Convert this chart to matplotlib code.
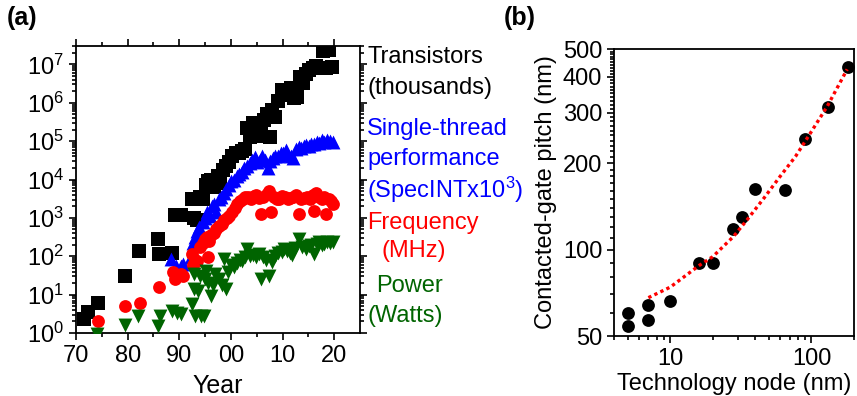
import numpy as np
import matplotlib
matplotlib.use("Agg")
import matplotlib.pyplot as plt
from matplotlib.ticker import FixedLocator, LogLocator, NullFormatter

plt.rcParams['font.family'] = ['Liberation Sans', 'DejaVu Sans']
plt.rcParams['mathtext.default'] = 'regular'

# (a) Transistors (thousands)
tr_year = [1971.5, 1972.3, 1974.3, 1979.5, 1982.2, 1985.9, 1986.1, 1988.6, 1989.2, 1990.3,
           1992.4, 1992.9, 1993.4, 1994.0, 1994.6, 1995.1, 1995.6, 1996.1, 1996.8, 1997.4,
           1997.9, 1998.5, 1999.1, 1999.7, 2000.3, 2000.9, 2001.5, 2002.1, 2002.7, 2003.1,
           2003.6, 2004.2, 2004.8, 2005.3, 2005.8, 2006.4, 2006.9, 2007.5, 2008.0, 2008.6,
           2009.2, 2009.8, 2010.4, 2011.0, 2011.6, 2012.2, 2012.8, 2013.4, 2014.0, 2014.6,
           2015.2, 2015.9, 2016.5, 2017.2, 2017.8, 2018.4, 2019.0, 2019.5]
tr_val = [2.3, 3.5, 6, 30, 138, 280, 112, 125, 1200, 1200,
          3200, 1000, 900, 3500, 3200, 7000, 9000, 9500, 6300, 12600,
          8000, 18000, 22000, 29000, 40000, 48000, 50000, 56000, 63000, 214000,
          126000, 290000, 140000, 234000, 178000, 355000, 525000, 129000, 630000, 437000,
          1.12e6, 2.19e6, 1.78e6, 1.58e6, 2.5e6, 1.32e6, 1.4e6, 4.8e6, 3.2e6, 5.6e6,
          7.1e6, 7.9e6, 8.9e6, 7.9e6, 2.2e7, 8.3e6, 2.4e7, 8.5e6]

# Single-thread performance (SpecINT x 10^3)
st_year = [1988.4, 1989.4, 1990.3, 1990.8, 1992.3, 1992.6, 1993.0, 1993.4, 1993.9, 1994.3,
           1994.6, 1995.0, 1995.4, 1995.9, 1996.3, 1996.8, 1997.2, 1997.7, 1998.1, 1998.6,
           1999.1, 1999.6, 2000.1, 2000.6, 2001.1, 2001.6, 2002.1, 2002.6, 2003.1, 2003.6,
           2004.1, 2004.6, 2005.1, 2005.6, 2006.1, 2006.6, 2007.1, 2007.6, 2008.1, 2008.6,
           2009.1, 2009.6, 2010.1, 2010.6, 2011.1, 2011.6, 2012.1, 2012.6, 2013.1, 2013.6,
           2014.1, 2014.6, 2015.1, 2015.6, 2016.1, 2016.6, 2017.1, 2017.6, 2018.1, 2018.6,
           2019.1, 2019.7]
st_val = [85, 56, 56, 63, 93, 224, 316, 447, 562, 398,
          794, 1000, 1413, 1122, 2000, 2240, 1413, 3160, 3550, 4470,
          5620, 7080, 8900, 10000, 12000, 14100, 15800, 20000, 22400, 26300,
          31600, 38000, 28000, 31600, 40000, 33000, 20000, 30000, 35500, 41700,
          40000, 47900, 50000, 57500, 44700, 41700, 35500, 63000, 70800, 66000,
          75900, 79400, 74100, 85100, 83200, 93300, 89100, 104700, 95500, 107000,
          100000, 93300]

# Frequency (MHz)
fr_year = [1974.3, 1979.5, 1982.3, 1986.0, 1988.7, 1989.2, 1989.8, 1990.3, 1990.7, 1992.4,
           1992.6, 1993.1, 1993.4, 1994.0, 1994.5, 1994.9, 1995.3, 1995.6, 1995.8, 1996.2,
           1996.7, 1997.2, 1997.7, 1998.2, 1998.7, 1999.2, 1999.7, 2000.2, 2000.7, 2001.2,
           2001.8, 2002.3, 2002.8, 2003.3, 2003.9, 2004.4, 2004.9, 2005.4, 2005.8, 2006.3,
           2006.9, 2007.4, 2007.8, 2008.3, 2008.9, 2009.4, 2009.9, 2010.5, 2011.0, 2011.5,
           2012.0, 2012.6, 2013.2, 2013.6, 2014.2, 2014.7, 2015.3, 2015.8, 2016.1, 2016.5,
           2017.1, 2017.6, 2018.1, 2018.4, 2018.9, 2019.4, 2019.8]
fr_val = [2, 5, 6, 16, 40, 26, 32, 35, 30, 112,
          60, 80, 76, 178, 224, 282, 316, 93, 251, 355,
          398, 500, 600, 708, 890, 1000, 1120, 1410, 1780, 2240,
          2820, 3160, 3550, 3550, 3160, 3800, 4000, 3300, 1290, 3550,
          4170, 5000, 1410, 3550, 3160, 3160, 3630, 3470, 3160, 3310,
          3550, 3890, 1290, 3160, 3390, 3550, 3160, 4000, 1550, 4470,
          3550, 3160, 3550, 1290, 3160, 2820, 2340]

# Power (Watts)
pw_year = [1974.1, 1979.5, 1982.1, 1985.9, 1986.2, 1988.6, 1989.6, 1990.4, 1992.5, 1993.1,
           1994.2, 1994.7, 1992.8, 1993.7, 1992.9, 1994.0, 1995.0, 1995.2, 1995.6, 1996.1,
           1996.5, 1997.0, 1997.7, 1998.2, 1999.0, 1998.7, 1999.5, 2000.0, 2000.6, 2001.2,
           2001.7, 2002.2, 2002.7, 2003.2, 2003.7, 2004.2, 2004.8, 2005.5, 2005.8, 2006.3,
           2006.8, 2007.4, 2008.0, 2008.6, 2009.2, 2009.8, 2010.3, 2010.9, 2011.4, 2011.9,
           2012.4, 2013.2, 2013.8, 2014.5, 2015.1, 2015.6, 2016.1, 2016.6, 2017.1, 2017.6,
           2018.1, 2018.6, 2019.1, 2019.7]
pw_val = [0.95, 1.6, 2.8, 1.5, 2.8, 3.8, 3.3, 3.2, 5.6, 2.8,
          2.8, 2.8, 14, 12.6, 35, 30, 25, 42, 20, 9.3,
          18, 35, 25, 18, 14, 85, 40, 60, 51, 65,
          80, 76, 95, 155, 100, 110, 95, 115, 25, 95,
          80, 31, 69, 100, 120, 130, 155, 140, 125, 105,
          160, 280, 170, 155, 190, 200, 115, 210, 230, 200,
          210, 230, 220, 230]

year_ticks = [1970, 1980, 1990, 2000, 2010, 2020]
year_labels = ['70', '80', '90', '00', '10', '20']

# (b) contacted-gate pitch vs technology node
node = [5, 5, 7, 7, 10, 16, 20, 28, 32, 40, 65, 90, 130, 180]
pitch = [60, 54, 64, 57, 66, 90, 90, 118, 130, 163, 161, 242, 313, 434]
fit_node = [7, 10, 16, 20, 28, 35, 46, 60, 77, 93, 129, 179]
fit_pitch = [68, 74, 88, 94.5, 111, 127, 151, 180, 211, 244, 315, 425]

green = '#006400'
FS = 17

fig = plt.figure(figsize=(8.57, 3.96), dpi=100)

# ---- panel (a)
ax = fig.add_axes([0.0887, 0.1591, 0.3314, 0.7247])
ax.set_yscale('log')
ax.scatter(tr_year, tr_val, marker='s', s=90, color='black', linewidths=0, zorder=2)
ax.scatter(st_year, st_val, marker='^', s=100, color='#0000ff', linewidths=0, zorder=3)
ax.scatter(fr_year, fr_val, marker='o', s=85, color='#ff0000', linewidths=0, zorder=4)
ax.scatter(pw_year, pw_val, marker='v', s=100, color=green, linewidths=0, zorder=5)
ax.set_xlim(1970, 2025)
ax.set_ylim(1, 10 ** 7.48)
ax.set_xticks(year_ticks)
ax.set_xticklabels(year_labels)
ax.xaxis.set_minor_locator(FixedLocator(np.arange(1975, 2025, 10)))
ax.yaxis.set_major_locator(LogLocator(base=10, numticks=20))
ax.yaxis.set_minor_locator(LogLocator(base=10, subs=np.arange(2, 10), numticks=20))
ax.yaxis.set_minor_formatter(NullFormatter())
ax.tick_params(which='both', direction='out', top=True, right=True, labelsize=FS, width=1.2)
ax.tick_params(which='major', length=5)
ax.tick_params(which='minor', length=3)
ax.set_xlabel('Year', fontsize=FS + 1, labelpad=5)
for sp in ax.spines.values():
    sp.set_linewidth(1.3)

# side labels
tx = 1.025
ax.text(tx, 0.96, 'Transistors', transform=ax.transAxes, fontsize=FS, va='center', ha='left')
ax.text(tx, 0.855, '(thousands)', transform=ax.transAxes, fontsize=FS, va='center', ha='left')
ax.text(tx, 0.71, 'Single-thread', transform=ax.transAxes, fontsize=FS, va='center', ha='left', color='#0000ff')
ax.text(tx, 0.605, 'performance', transform=ax.transAxes, fontsize=FS, va='center', ha='left', color='#0000ff')
ax.text(tx, 0.50, '(SpecINTx10$^{3}$)', transform=ax.transAxes, fontsize=FS, va='center', ha='left', color='#0000ff')
ax.text(tx, 0.385, 'Frequency', transform=ax.transAxes, fontsize=FS, va='center', ha='left', color='#ff0000')
ax.text(tx + 0.05, 0.285, '(MHz)', transform=ax.transAxes, fontsize=FS, va='center', ha='left', color='#ff0000')
ax.text(tx + 0.03, 0.165, 'Power', transform=ax.transAxes, fontsize=FS, va='center', ha='left', color=green)
ax.text(tx, 0.06, '(Watts)', transform=ax.transAxes, fontsize=FS, va='center', ha='left', color=green)

fig.text(0.008, 0.955, '(a)', fontsize=FS + 1, fontweight='bold', va='center', ha='left')
fig.text(0.588, 0.955, '(b)', fontsize=FS + 1, fontweight='bold', va='center', ha='left')

# ---- panel (b)
bx = fig.add_axes([0.7165, 0.1515, 0.28, 0.7247])
bx.set_xscale('log')
bx.set_yscale('log')
bx.plot(fit_node, fit_pitch, linestyle=(0, (1, 1)), color='#ff0000', linewidth=2.4, zorder=3)
bx.scatter(node, pitch, marker='o', s=85, color='black', linewidths=0, zorder=2)
bx.set_xlim(4, 200)
bx.set_ylim(50, 500)
bx.set_xticks([10, 100])
bx.set_xticklabels(['10', '100'])
bx.xaxis.set_minor_locator(LogLocator(base=10, subs=np.arange(2, 10), numticks=20))
bx.xaxis.set_minor_formatter(NullFormatter())
bx.set_yticks([50, 100, 200, 300, 400, 500])
bx.set_yticklabels(['50', '100', '200', '300', '400', '500'])
bx.yaxis.set_minor_locator(FixedLocator([v for v in range(60, 500, 10) if v not in (100, 200, 300, 400)]))
bx.yaxis.set_minor_formatter(NullFormatter())
bx.tick_params(which='both', direction='out', labelsize=FS, width=1.2)
bx.tick_params(which='major', length=5)
bx.tick_params(which='minor', length=3)
bx.set_xlabel('Technology node (nm)', fontsize=FS, labelpad=2)
bx.set_ylabel('Contacted-gate pitch (nm)', fontsize=FS, labelpad=4)
for sp in bx.spines.values():
    sp.set_linewidth(1.3)

fig.savefig('out.png', dpi=100)
